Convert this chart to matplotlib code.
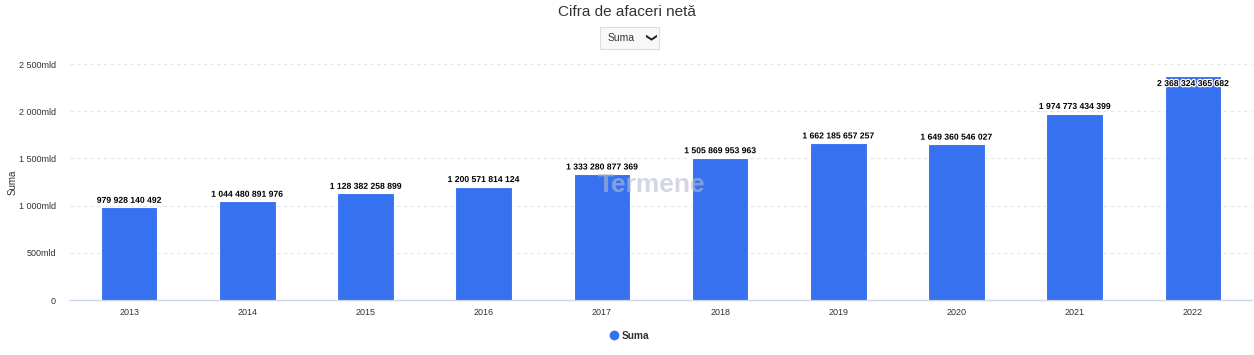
import matplotlib
matplotlib.use("Agg")
import matplotlib.pyplot as plt
import matplotlib.patheffects as pe
from matplotlib.ticker import FuncFormatter
from matplotlib.lines import Line2D

plt.rcParams['font.family'] = ['Liberation Sans', 'DejaVu Sans']

years = ["2013", "2014", "2015", "2016", "2017", "2018", "2019", "2020", "2021", "2022"]
values = [979928140492, 1044480891976, 1128382258899, 1200571814124, 1333280877369,
          1505869953963, 1662185657257, 1649360546027, 1974773434399, 2368324365682]
yticks = [0, 500e9, 1000e9, 1500e9, 2000e9, 2500e9]

bar_color = "#3672F0"

fig = plt.figure(figsize=(12.54, 3.55), dpi=100)
ax = fig.add_axes([70/1254, 1-300/355, (1252-70)/1254, (300-64)/355])

x = list(range(len(years)))
ax.bar(x, values, width=0.48, color=bar_color, edgecolor="white", linewidth=0.8, zorder=3)

def fmt_num(v):
    return f"{int(v):,}".replace(",", " ")

for i, v in enumerate(values):
    if i == len(values) - 1:
        ax.text(i, v - 28e9, fmt_num(v), ha="center", va="top", fontsize=6.2,
                fontweight="bold", color="black", zorder=5,
                path_effects=[pe.withStroke(linewidth=1.8, foreground="white")])
    else:
        ax.text(i, v + 28e9, fmt_num(v), ha="center", va="bottom", fontsize=6.2,
                fontweight="bold", color="black", zorder=5,
                path_effects=[pe.withStroke(linewidth=1.5, foreground="white")])

ax.set_xlim(-0.5, len(years) - 0.5)
ax.set_ylim(0, 2500e9)
ax.set_yticks(yticks)

def yfmt(v, pos):
    if v == 0:
        return "0"
    return fmt_num(v / 1e9) + "mld"

ax.yaxis.set_major_formatter(FuncFormatter(yfmt))
ax.set_xticks(x)
ax.set_xticklabels(years)
ax.tick_params(axis="both", length=0, labelsize=6.5, colors="#333333")
ax.tick_params(axis="x", pad=6)
ax.tick_params(axis="y", pad=10)

ax.grid(axis="y", color="#e6e6e6", linestyle=(0, (3, 3)), linewidth=0.8, zorder=0)
for s in ["top", "right", "left"]:
    ax.spines[s].set_visible(False)
ax.spines["bottom"].set_color("#ccd6eb")
ax.spines["bottom"].set_linewidth(1)

ax.set_ylabel("Suma", fontsize=7, color="#333333")
ax.yaxis.set_label_coords(-52/1182, 0.5)

# Watermark
fig.text(598/1254, 1-185/355, "Termene", fontsize=19, fontweight="bold",
         color="#b8bcd2", alpha=0.6, ha="left", va="center", zorder=1)

# Title
fig.text(0.5, 1-12/355, "Cifra de afaceri netă", ha="center", va="center",
         fontsize=11, color="#333333")

# Dropdown
box_x0, box_y0, box_w, box_h = 600/1254, 1-49/355, 59/1254, 22/355
fig.patches.append(plt.Rectangle((box_x0, box_y0), box_w, box_h, transform=fig.transFigure,
                                 facecolor="#f7f8fa", edgecolor="#dddddd", linewidth=0.8))
fig.text(621/1254, 1-38/355, "Suma", ha="center", va="center", fontsize=7.5, color="#333333")
fig.text(649/1254, 1-38/355, "❯", ha="center", va="center", fontsize=8, color="#222222",
         rotation=-90, fontweight="bold", family="DejaVu Sans")

# Legend
handle = Line2D([0], [0], marker="o", color="none", markerfacecolor=bar_color,
                markeredgecolor=bar_color, markersize=6)
fig.legend([handle], ["Suma"], loc="center", bbox_to_anchor=(629/1254, 1-336/355),
           frameon=False, prop={"size": 7.3, "weight": "bold"}, labelcolor="#333333",
           handletextpad=0.3, handlelength=1.0)

fig.savefig("out.png", dpi=100)
